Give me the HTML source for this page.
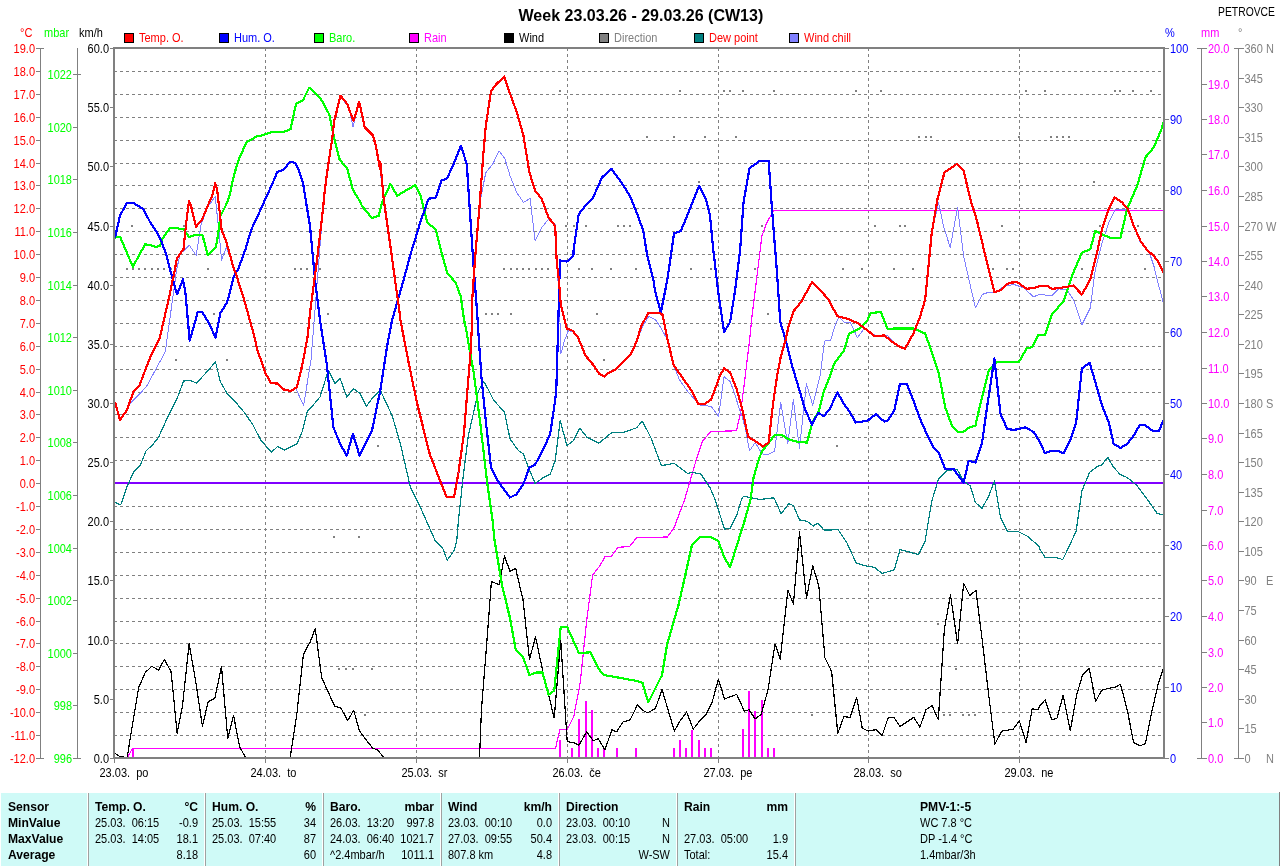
<!DOCTYPE html><html><head><meta charset="utf-8"><style>html,body{margin:0;padding:0;background:#fff;width:1280px;height:866px;overflow:hidden}svg{display:block;will-change:transform}text{font-family:"Liberation Sans",sans-serif}</style></head><body>
<svg width="1280" height="866" viewBox="0 0 1280 866">
<text transform="translate(518.5 21) scale(0.944 1)" fill="#000" text-anchor="start" font-size="17" font-weight="bold" >Week 23.03.26 - 29.03.26 (CW13)</text>
<text transform="translate(1218 16) scale(0.83 1)" fill="#000" text-anchor="start" font-size="12.5" >PETROVCE</text>
<text transform="translate(20 37) scale(0.88 1)" fill="#f00" text-anchor="start" font-size="12.5" >°C</text>
<text transform="translate(44 37) scale(0.88 1)" fill="#0f0" text-anchor="start" font-size="12.5" >mbar</text>
<text transform="translate(79 37) scale(0.88 1)" fill="#000" text-anchor="start" font-size="12.5" >km/h</text>
<text transform="translate(1165 37) scale(0.88 1)" fill="#00f" text-anchor="start" font-size="12.5" >%</text>
<text transform="translate(1201 37) scale(0.88 1)" fill="#f0f" text-anchor="start" font-size="12.5" >mm</text>
<text transform="translate(1238 37) scale(0.88 1)" fill="#808080" text-anchor="start" font-size="12.5" >°</text>
<rect x="124.5" y="33.5" width="9" height="9" fill="#f00" stroke="#000" stroke-width="1"/>
<text transform="translate(139 42) scale(0.88 1)" fill="#f00" text-anchor="start" font-size="12.5" >Temp. O.</text>
<rect x="219.5" y="33.5" width="9" height="9" fill="#00f" stroke="#000" stroke-width="1"/>
<text transform="translate(234 42) scale(0.88 1)" fill="#00f" text-anchor="start" font-size="12.5" >Hum. O.</text>
<rect x="314.5" y="33.5" width="9" height="9" fill="#0f0" stroke="#000" stroke-width="1"/>
<text transform="translate(329 42) scale(0.88 1)" fill="#0f0" text-anchor="start" font-size="12.5" >Baro.</text>
<rect x="409.5" y="33.5" width="9" height="9" fill="#f0f" stroke="#000" stroke-width="1"/>
<text transform="translate(424 42) scale(0.88 1)" fill="#f0f" text-anchor="start" font-size="12.5" >Rain</text>
<rect x="504.5" y="33.5" width="9" height="9" fill="#000" stroke="#000" stroke-width="1"/>
<text transform="translate(519 42) scale(0.88 1)" fill="#000" text-anchor="start" font-size="12.5" >Wind</text>
<rect x="599.5" y="33.5" width="9" height="9" fill="#808080" stroke="#000" stroke-width="1"/>
<text transform="translate(614 42) scale(0.88 1)" fill="#808080" text-anchor="start" font-size="12.5" >Direction</text>
<rect x="694.5" y="33.5" width="9" height="9" fill="#008080" stroke="#000" stroke-width="1"/>
<text transform="translate(709 42) scale(0.88 1)" fill="#f00" text-anchor="start" font-size="12.5" >Dew point</text>
<rect x="789.5" y="33.5" width="9" height="9" fill="#8080ff" stroke="#000" stroke-width="1"/>
<text transform="translate(804 42) scale(0.88 1)" fill="#f00" text-anchor="start" font-size="12.5" >Wind chill</text>
<path d="M114 71.5H1163 M114 94.5H1163 M114 117.5H1163 M114 140.5H1163 M114 163.5H1163 M114 185.5H1163 M114 208.5H1163 M114 231.5H1163 M114 254.5H1163 M114 277.5H1163 M114 300.5H1163 M114 323.5H1163 M114 346.5H1163 M114 369.5H1163 M114 392.5H1163 M114 414.5H1163 M114 437.5H1163 M114 460.5H1163 M114 483.5H1163 M114 506.5H1163 M114 529.5H1163 M114 552.5H1163 M114 575.5H1163 M114 598.5H1163 M114 621.5H1163 M114 643.5H1163 M114 666.5H1163 M114 689.5H1163 M114 712.5H1163 M114 735.5H1163 M265.5 48V757 M416.5 48V757 M567.5 48V757 M718.5 48V757 M868.5 48V757 M1019.5 48V757" stroke="#808080" stroke-width="1" stroke-dasharray="3 3" fill="none" shape-rendering="crispEdges"/>
<path d="M40.5 48V759 M36 48.5H44 M36 71.5H41 M36 94.5H41 M36 117.5H41 M36 140.5H41 M36 163.5H41 M36 185.5H41 M36 208.5H41 M36 231.5H41 M36 254.5H41 M36 277.5H41 M36 300.5H41 M36 323.5H41 M36 346.5H41 M36 369.5H41 M36 392.5H41 M36 414.5H41 M36 437.5H41 M36 460.5H41 M36 483.5H41 M36 506.5H41 M36 529.5H41 M36 552.5H41 M36 575.5H41 M36 598.5H41 M36 621.5H41 M36 643.5H41 M36 666.5H41 M36 689.5H41 M36 712.5H41 M36 735.5H41 M36 758.5H44 M77.5 48V759 M73 758.5H81 M73 705.5H78 M73 653.5H78 M73 600.5H78 M73 548.5H78 M73 495.5H78 M73 442.5H78 M73 390.5H78 M73 337.5H78 M73 285.5H78 M73 232.5H78 M73 179.5H78 M73 127.5H78 M73 74.5H81 M110 758.5H114 M110 699.5H114 M110 640.5H114 M110 580.5H114 M110 521.5H114 M110 462.5H114 M110 403.5H114 M110 344.5H114 M110 285.5H114 M110 226.5H114 M110 166.5H114 M110 107.5H114 M110 48.5H114 M114.5 758V763 M265.5 758V763 M416.5 758V763 M567.5 758V763 M718.5 758V763 M868.5 758V763 M1019.5 758V763 M1164 758.5H1169 M1164 687.5H1169 M1164 616.5H1169 M1164 545.5H1169 M1164 474.5H1169 M1164 403.5H1169 M1164 332.5H1169 M1164 261.5H1169 M1164 190.5H1169 M1164 119.5H1169 M1164 48.5H1169 M1201.5 48V759 M1197 758.5H1207 M1201 722.5H1207 M1201 687.5H1207 M1201 652.5H1207 M1201 616.5H1207 M1201 580.5H1207 M1201 545.5H1207 M1201 510.5H1207 M1201 474.5H1207 M1201 438.5H1207 M1201 403.5H1207 M1201 368.5H1207 M1201 332.5H1207 M1201 296.5H1207 M1201 261.5H1207 M1201 226.5H1207 M1201 190.5H1207 M1201 154.5H1207 M1201 119.5H1207 M1201 84.5H1207 M1197 48.5H1207 M1238.5 48V759 M1234 758.5H1244 M1238 728.5H1244 M1238 699.5H1244 M1238 669.5H1244 M1238 640.5H1244 M1238 610.5H1244 M1238 580.5H1244 M1238 551.5H1244 M1238 521.5H1244 M1238 492.5H1244 M1238 462.5H1244 M1238 433.5H1244 M1238 403.5H1244 M1238 373.5H1244 M1238 344.5H1244 M1238 314.5H1244 M1238 285.5H1244 M1238 255.5H1244 M1238 226.5H1244 M1238 196.5H1244 M1238 166.5H1244 M1238 137.5H1244 M1238 107.5H1244 M1238 78.5H1244 M1234 48.5H1244" stroke="#808080" stroke-width="1" fill="none" shape-rendering="crispEdges"/>
<text transform="translate(35 53) scale(0.88 1)" fill="#f00" text-anchor="end" font-size="12.5" >19.0</text>
<text transform="translate(35 76) scale(0.88 1)" fill="#f00" text-anchor="end" font-size="12.5" >18.0</text>
<text transform="translate(35 99) scale(0.88 1)" fill="#f00" text-anchor="end" font-size="12.5" >17.0</text>
<text transform="translate(35 122) scale(0.88 1)" fill="#f00" text-anchor="end" font-size="12.5" >16.0</text>
<text transform="translate(35 145) scale(0.88 1)" fill="#f00" text-anchor="end" font-size="12.5" >15.0</text>
<text transform="translate(35 168) scale(0.88 1)" fill="#f00" text-anchor="end" font-size="12.5" >14.0</text>
<text transform="translate(35 190) scale(0.88 1)" fill="#f00" text-anchor="end" font-size="12.5" >13.0</text>
<text transform="translate(35 213) scale(0.88 1)" fill="#f00" text-anchor="end" font-size="12.5" >12.0</text>
<text transform="translate(35 236) scale(0.88 1)" fill="#f00" text-anchor="end" font-size="12.5" >11.0</text>
<text transform="translate(35 259) scale(0.88 1)" fill="#f00" text-anchor="end" font-size="12.5" >10.0</text>
<text transform="translate(35 282) scale(0.88 1)" fill="#f00" text-anchor="end" font-size="12.5" >9.0</text>
<text transform="translate(35 305) scale(0.88 1)" fill="#f00" text-anchor="end" font-size="12.5" >8.0</text>
<text transform="translate(35 328) scale(0.88 1)" fill="#f00" text-anchor="end" font-size="12.5" >7.0</text>
<text transform="translate(35 351) scale(0.88 1)" fill="#f00" text-anchor="end" font-size="12.5" >6.0</text>
<text transform="translate(35 374) scale(0.88 1)" fill="#f00" text-anchor="end" font-size="12.5" >5.0</text>
<text transform="translate(35 397) scale(0.88 1)" fill="#f00" text-anchor="end" font-size="12.5" >4.0</text>
<text transform="translate(35 419) scale(0.88 1)" fill="#f00" text-anchor="end" font-size="12.5" >3.0</text>
<text transform="translate(35 442) scale(0.88 1)" fill="#f00" text-anchor="end" font-size="12.5" >2.0</text>
<text transform="translate(35 465) scale(0.88 1)" fill="#f00" text-anchor="end" font-size="12.5" >1.0</text>
<text transform="translate(35 488) scale(0.88 1)" fill="#f00" text-anchor="end" font-size="12.5" >0.0</text>
<text transform="translate(35 511) scale(0.88 1)" fill="#f00" text-anchor="end" font-size="12.5" >-1.0</text>
<text transform="translate(35 534) scale(0.88 1)" fill="#f00" text-anchor="end" font-size="12.5" >-2.0</text>
<text transform="translate(35 557) scale(0.88 1)" fill="#f00" text-anchor="end" font-size="12.5" >-3.0</text>
<text transform="translate(35 580) scale(0.88 1)" fill="#f00" text-anchor="end" font-size="12.5" >-4.0</text>
<text transform="translate(35 603) scale(0.88 1)" fill="#f00" text-anchor="end" font-size="12.5" >-5.0</text>
<text transform="translate(35 626) scale(0.88 1)" fill="#f00" text-anchor="end" font-size="12.5" >-6.0</text>
<text transform="translate(35 648) scale(0.88 1)" fill="#f00" text-anchor="end" font-size="12.5" >-7.0</text>
<text transform="translate(35 671) scale(0.88 1)" fill="#f00" text-anchor="end" font-size="12.5" >-8.0</text>
<text transform="translate(35 694) scale(0.88 1)" fill="#f00" text-anchor="end" font-size="12.5" >-9.0</text>
<text transform="translate(35 717) scale(0.88 1)" fill="#f00" text-anchor="end" font-size="12.5" >-10.0</text>
<text transform="translate(35 740) scale(0.88 1)" fill="#f00" text-anchor="end" font-size="12.5" >-11.0</text>
<text transform="translate(35 763) scale(0.88 1)" fill="#f00" text-anchor="end" font-size="12.5" >-12.0</text>
<text transform="translate(72 763) scale(0.88 1)" fill="#0f0" text-anchor="end" font-size="12.5" >996</text>
<text transform="translate(72 710) scale(0.88 1)" fill="#0f0" text-anchor="end" font-size="12.5" >998</text>
<text transform="translate(72 658) scale(0.88 1)" fill="#0f0" text-anchor="end" font-size="12.5" >1000</text>
<text transform="translate(72 605) scale(0.88 1)" fill="#0f0" text-anchor="end" font-size="12.5" >1002</text>
<text transform="translate(72 553) scale(0.88 1)" fill="#0f0" text-anchor="end" font-size="12.5" >1004</text>
<text transform="translate(72 500) scale(0.88 1)" fill="#0f0" text-anchor="end" font-size="12.5" >1006</text>
<text transform="translate(72 447) scale(0.88 1)" fill="#0f0" text-anchor="end" font-size="12.5" >1008</text>
<text transform="translate(72 395) scale(0.88 1)" fill="#0f0" text-anchor="end" font-size="12.5" >1010</text>
<text transform="translate(72 342) scale(0.88 1)" fill="#0f0" text-anchor="end" font-size="12.5" >1012</text>
<text transform="translate(72 290) scale(0.88 1)" fill="#0f0" text-anchor="end" font-size="12.5" >1014</text>
<text transform="translate(72 237) scale(0.88 1)" fill="#0f0" text-anchor="end" font-size="12.5" >1016</text>
<text transform="translate(72 184) scale(0.88 1)" fill="#0f0" text-anchor="end" font-size="12.5" >1018</text>
<text transform="translate(72 132) scale(0.88 1)" fill="#0f0" text-anchor="end" font-size="12.5" >1020</text>
<text transform="translate(72 79) scale(0.88 1)" fill="#0f0" text-anchor="end" font-size="12.5" >1022</text>
<text transform="translate(109 763) scale(0.88 1)" fill="#000" text-anchor="end" font-size="12.5" >0.0</text>
<text transform="translate(109 704) scale(0.88 1)" fill="#000" text-anchor="end" font-size="12.5" >5.0</text>
<text transform="translate(109 645) scale(0.88 1)" fill="#000" text-anchor="end" font-size="12.5" >10.0</text>
<text transform="translate(109 585) scale(0.88 1)" fill="#000" text-anchor="end" font-size="12.5" >15.0</text>
<text transform="translate(109 526) scale(0.88 1)" fill="#000" text-anchor="end" font-size="12.5" >20.0</text>
<text transform="translate(109 467) scale(0.88 1)" fill="#000" text-anchor="end" font-size="12.5" >25.0</text>
<text transform="translate(109 408) scale(0.88 1)" fill="#000" text-anchor="end" font-size="12.5" >30.0</text>
<text transform="translate(109 349) scale(0.88 1)" fill="#000" text-anchor="end" font-size="12.5" >35.0</text>
<text transform="translate(109 290) scale(0.88 1)" fill="#000" text-anchor="end" font-size="12.5" >40.0</text>
<text transform="translate(109 231) scale(0.88 1)" fill="#000" text-anchor="end" font-size="12.5" >45.0</text>
<text transform="translate(109 171) scale(0.88 1)" fill="#000" text-anchor="end" font-size="12.5" >50.0</text>
<text transform="translate(109 112) scale(0.88 1)" fill="#000" text-anchor="end" font-size="12.5" >55.0</text>
<text transform="translate(109 53) scale(0.88 1)" fill="#000" text-anchor="end" font-size="12.5" >60.0</text>
<text transform="translate(1170 763) scale(0.88 1)" fill="#00f" text-anchor="start" font-size="12.5" >0</text>
<text transform="translate(1170 692) scale(0.88 1)" fill="#00f" text-anchor="start" font-size="12.5" >10</text>
<text transform="translate(1170 621) scale(0.88 1)" fill="#00f" text-anchor="start" font-size="12.5" >20</text>
<text transform="translate(1170 550) scale(0.88 1)" fill="#00f" text-anchor="start" font-size="12.5" >30</text>
<text transform="translate(1170 479) scale(0.88 1)" fill="#00f" text-anchor="start" font-size="12.5" >40</text>
<text transform="translate(1170 408) scale(0.88 1)" fill="#00f" text-anchor="start" font-size="12.5" >50</text>
<text transform="translate(1170 337) scale(0.88 1)" fill="#00f" text-anchor="start" font-size="12.5" >60</text>
<text transform="translate(1170 266) scale(0.88 1)" fill="#00f" text-anchor="start" font-size="12.5" >70</text>
<text transform="translate(1170 195) scale(0.88 1)" fill="#00f" text-anchor="start" font-size="12.5" >80</text>
<text transform="translate(1170 124) scale(0.88 1)" fill="#00f" text-anchor="start" font-size="12.5" >90</text>
<text transform="translate(1170 53) scale(0.88 1)" fill="#00f" text-anchor="start" font-size="12.5" >100</text>
<text transform="translate(1208 763) scale(0.88 1)" fill="#f0f" text-anchor="start" font-size="12.5" >0.0</text>
<text transform="translate(1208 727) scale(0.88 1)" fill="#f0f" text-anchor="start" font-size="12.5" >1.0</text>
<text transform="translate(1208 692) scale(0.88 1)" fill="#f0f" text-anchor="start" font-size="12.5" >2.0</text>
<text transform="translate(1208 657) scale(0.88 1)" fill="#f0f" text-anchor="start" font-size="12.5" >3.0</text>
<text transform="translate(1208 621) scale(0.88 1)" fill="#f0f" text-anchor="start" font-size="12.5" >4.0</text>
<text transform="translate(1208 585) scale(0.88 1)" fill="#f0f" text-anchor="start" font-size="12.5" >5.0</text>
<text transform="translate(1208 550) scale(0.88 1)" fill="#f0f" text-anchor="start" font-size="12.5" >6.0</text>
<text transform="translate(1208 515) scale(0.88 1)" fill="#f0f" text-anchor="start" font-size="12.5" >7.0</text>
<text transform="translate(1208 479) scale(0.88 1)" fill="#f0f" text-anchor="start" font-size="12.5" >8.0</text>
<text transform="translate(1208 443) scale(0.88 1)" fill="#f0f" text-anchor="start" font-size="12.5" >9.0</text>
<text transform="translate(1208 408) scale(0.88 1)" fill="#f0f" text-anchor="start" font-size="12.5" >10.0</text>
<text transform="translate(1208 373) scale(0.88 1)" fill="#f0f" text-anchor="start" font-size="12.5" >11.0</text>
<text transform="translate(1208 337) scale(0.88 1)" fill="#f0f" text-anchor="start" font-size="12.5" >12.0</text>
<text transform="translate(1208 301) scale(0.88 1)" fill="#f0f" text-anchor="start" font-size="12.5" >13.0</text>
<text transform="translate(1208 266) scale(0.88 1)" fill="#f0f" text-anchor="start" font-size="12.5" >14.0</text>
<text transform="translate(1208 231) scale(0.88 1)" fill="#f0f" text-anchor="start" font-size="12.5" >15.0</text>
<text transform="translate(1208 195) scale(0.88 1)" fill="#f0f" text-anchor="start" font-size="12.5" >16.0</text>
<text transform="translate(1208 159) scale(0.88 1)" fill="#f0f" text-anchor="start" font-size="12.5" >17.0</text>
<text transform="translate(1208 124) scale(0.88 1)" fill="#f0f" text-anchor="start" font-size="12.5" >18.0</text>
<text transform="translate(1208 89) scale(0.88 1)" fill="#f0f" text-anchor="start" font-size="12.5" >19.0</text>
<text transform="translate(1208 53) scale(0.88 1)" fill="#f0f" text-anchor="start" font-size="12.5" >20.0</text>
<text transform="translate(1244.5 763) scale(0.88 1)" fill="#808080" text-anchor="start" font-size="12.5" >0</text>
<text transform="translate(1266 763) scale(0.88 1)" fill="#808080" text-anchor="start" font-size="12.5" >N</text>
<text transform="translate(1244.5 733) scale(0.88 1)" fill="#808080" text-anchor="start" font-size="12.5" >15</text>
<text transform="translate(1244.5 704) scale(0.88 1)" fill="#808080" text-anchor="start" font-size="12.5" >30</text>
<text transform="translate(1244.5 674) scale(0.88 1)" fill="#808080" text-anchor="start" font-size="12.5" >45</text>
<text transform="translate(1244.5 645) scale(0.88 1)" fill="#808080" text-anchor="start" font-size="12.5" >60</text>
<text transform="translate(1244.5 615) scale(0.88 1)" fill="#808080" text-anchor="start" font-size="12.5" >75</text>
<text transform="translate(1244.5 585) scale(0.88 1)" fill="#808080" text-anchor="start" font-size="12.5" >90</text>
<text transform="translate(1266 585) scale(0.88 1)" fill="#808080" text-anchor="start" font-size="12.5" >E</text>
<text transform="translate(1244.5 556) scale(0.88 1)" fill="#808080" text-anchor="start" font-size="12.5" >105</text>
<text transform="translate(1244.5 526) scale(0.88 1)" fill="#808080" text-anchor="start" font-size="12.5" >120</text>
<text transform="translate(1244.5 497) scale(0.88 1)" fill="#808080" text-anchor="start" font-size="12.5" >135</text>
<text transform="translate(1244.5 467) scale(0.88 1)" fill="#808080" text-anchor="start" font-size="12.5" >150</text>
<text transform="translate(1244.5 438) scale(0.88 1)" fill="#808080" text-anchor="start" font-size="12.5" >165</text>
<text transform="translate(1244.5 408) scale(0.88 1)" fill="#808080" text-anchor="start" font-size="12.5" >180</text>
<text transform="translate(1266 408) scale(0.88 1)" fill="#808080" text-anchor="start" font-size="12.5" >S</text>
<text transform="translate(1244.5 378) scale(0.88 1)" fill="#808080" text-anchor="start" font-size="12.5" >195</text>
<text transform="translate(1244.5 349) scale(0.88 1)" fill="#808080" text-anchor="start" font-size="12.5" >210</text>
<text transform="translate(1244.5 319) scale(0.88 1)" fill="#808080" text-anchor="start" font-size="12.5" >225</text>
<text transform="translate(1244.5 290) scale(0.88 1)" fill="#808080" text-anchor="start" font-size="12.5" >240</text>
<text transform="translate(1244.5 260) scale(0.88 1)" fill="#808080" text-anchor="start" font-size="12.5" >255</text>
<text transform="translate(1244.5 231) scale(0.88 1)" fill="#808080" text-anchor="start" font-size="12.5" >270</text>
<text transform="translate(1266 231) scale(0.88 1)" fill="#808080" text-anchor="start" font-size="12.5" >W</text>
<text transform="translate(1244.5 201) scale(0.88 1)" fill="#808080" text-anchor="start" font-size="12.5" >285</text>
<text transform="translate(1244.5 171) scale(0.88 1)" fill="#808080" text-anchor="start" font-size="12.5" >300</text>
<text transform="translate(1244.5 142) scale(0.88 1)" fill="#808080" text-anchor="start" font-size="12.5" >315</text>
<text transform="translate(1244.5 112) scale(0.88 1)" fill="#808080" text-anchor="start" font-size="12.5" >330</text>
<text transform="translate(1244.5 83) scale(0.88 1)" fill="#808080" text-anchor="start" font-size="12.5" >345</text>
<text transform="translate(1244.5 53) scale(0.88 1)" fill="#808080" text-anchor="start" font-size="12.5" >360</text>
<text transform="translate(1266 53) scale(0.88 1)" fill="#808080" text-anchor="start" font-size="12.5" >N</text>
<text transform="translate(99.5 777) scale(0.88 1)" fill="#000" text-anchor="start" font-size="12.5" >23.03.&#160;&#160;po</text>
<text transform="translate(250.5 777) scale(0.88 1)" fill="#000" text-anchor="start" font-size="12.5" >24.03.&#160;&#160;to</text>
<text transform="translate(401.5 777) scale(0.88 1)" fill="#000" text-anchor="start" font-size="12.5" >25.03.&#160;&#160;sr</text>
<text transform="translate(552.5 777) scale(0.88 1)" fill="#000" text-anchor="start" font-size="12.5" >26.03.&#160;&#160;če</text>
<text transform="translate(703.5 777) scale(0.88 1)" fill="#000" text-anchor="start" font-size="12.5" >27.03.&#160;&#160;pe</text>
<text transform="translate(853.5 777) scale(0.88 1)" fill="#000" text-anchor="start" font-size="12.5" >28.03.&#160;&#160;so</text>
<text transform="translate(1004.5 777) scale(0.88 1)" fill="#000" text-anchor="start" font-size="12.5" >29.03.&#160;&#160;ne</text>
<svg x="0" y="0" width="1280" height="866"><defs><clipPath id="pc"><rect x="115" y="49" width="1048" height="708"/></clipPath></defs><g clip-path="url(#pc)">
<path d="M115 483H1163" stroke="#8000ff" stroke-width="2"/>
<path d="M559 90h2v2h-2z M679 90h2v2h-2z M723 90h2v2h-2z M729 90h2v2h-2z M742 90h2v2h-2z M773 90h2v2h-2z M855 90h2v2h-2z M880 90h2v2h-2z M1025 90h2v2h-2z M1044 90h2v2h-2z M1114 90h2v2h-2z M1119 90h2v2h-2z M1132 90h2v2h-2z M1150 90h2v2h-2z M646 136h2v2h-2z M673 136h2v2h-2z M704 136h2v2h-2z M735 136h2v2h-2z M918 136h2v2h-2z M925 136h2v2h-2z M930 136h2v2h-2z M1018 136h2v2h-2z M1050 136h2v2h-2z M1056 136h2v2h-2z M1062 136h2v2h-2z M1068 136h2v2h-2z M698 181h2v2h-2z M1093 181h2v2h-2z M131 225h2v2h-2z M183 225h2v2h-2z M565 225h2v2h-2z M573 225h2v2h-2z M585 225h2v2h-2z M617 225h2v2h-2z M623 225h2v2h-2z M629 225h2v2h-2z M761 225h2v2h-2z M874 225h2v2h-2z M899 225h2v2h-2z M904 225h2v2h-2z M1001 225h2v2h-2z M1099 225h2v2h-2z M1137 225h2v2h-2z M126 268h2v2h-2z M132 268h2v2h-2z M138 268h2v2h-2z M144 268h2v2h-2z M151 268h2v2h-2z M157 268h2v2h-2z M163 268h2v2h-2z M170 268h2v2h-2z M207 268h2v2h-2z M294 268h2v2h-2z M300 268h2v2h-2z M306 268h2v2h-2z M319 268h2v2h-2z M503 268h2v2h-2z M510 268h2v2h-2z M516 268h2v2h-2z M522 268h2v2h-2z M528 268h2v2h-2z M535 268h2v2h-2z M541 268h2v2h-2z M547 268h2v2h-2z M578 268h2v2h-2z M591 268h2v2h-2z M610 268h2v2h-2z M635 268h2v2h-2z M690 268h2v2h-2z M754 268h2v2h-2z M710 268h2v2h-2z M842 268h2v2h-2z M861 268h2v2h-2z M893 268h2v2h-2z M912 268h2v2h-2z M992 268h2v2h-2z M1006 268h2v2h-2z M1012 268h2v2h-2z M1081 268h2v2h-2z M1144 268h2v2h-2z M213 313h2v2h-2z M327 313h2v2h-2z M485 313h2v2h-2z M491 313h2v2h-2z M497 313h2v2h-2z M510 313h2v2h-2z M596 313h2v2h-2z M767 313h2v2h-2z M175 359h2v2h-2z M226 359h2v2h-2z M603 359h2v2h-2z M377 445h2v2h-2z M836 445h2v2h-2z M333 536h2v2h-2z M358 536h2v2h-2z M937 623h2v2h-2z M338 668h2v2h-2z M345 668h2v2h-2z M352 668h2v2h-2z M371 668h2v2h-2z M955 668h2v2h-2z M364 714h2v2h-2z M811 714h2v2h-2z M943 714h2v2h-2z M949 714h2v2h-2z M962 714h2v2h-2z M968 714h2v2h-2z M974 714h2v2h-2z" fill="#808080"/>
<rect x="132" y="749" width="2" height="9" fill="#ff00ff"/>
<rect x="559" y="740" width="2" height="18" fill="#ff00ff"/>
<rect x="571" y="748" width="2" height="10" fill="#ff00ff"/>
<rect x="578" y="719" width="2" height="39" fill="#ff00ff"/>
<rect x="585" y="701" width="2" height="57" fill="#ff00ff"/>
<rect x="591" y="710" width="2" height="48" fill="#ff00ff"/>
<rect x="597" y="748" width="2" height="10" fill="#ff00ff"/>
<rect x="603" y="748" width="2" height="10" fill="#ff00ff"/>
<rect x="616" y="748" width="2" height="10" fill="#ff00ff"/>
<rect x="635" y="748" width="2" height="10" fill="#ff00ff"/>
<rect x="673" y="748" width="2" height="10" fill="#ff00ff"/>
<rect x="679" y="740" width="2" height="18" fill="#ff00ff"/>
<rect x="685" y="748" width="2" height="10" fill="#ff00ff"/>
<rect x="691" y="730" width="2" height="28" fill="#ff00ff"/>
<rect x="698" y="740" width="2" height="18" fill="#ff00ff"/>
<rect x="704" y="748" width="2" height="10" fill="#ff00ff"/>
<rect x="710" y="748" width="2" height="10" fill="#ff00ff"/>
<rect x="742" y="729" width="2" height="29" fill="#ff00ff"/>
<rect x="748" y="691" width="2" height="67" fill="#ff00ff"/>
<rect x="754" y="711" width="2" height="47" fill="#ff00ff"/>
<rect x="761" y="700" width="2" height="58" fill="#ff00ff"/>
<rect x="767" y="748" width="2" height="10" fill="#ff00ff"/>
<rect x="773" y="748" width="2" height="10" fill="#ff00ff"/>
<polyline points="113.8,757.8 127.2,757.8 132.5,748.5 133.8,748.5 510.0,748.5 555.5,748.5 559.9,729.7 567.2,729.7 573.7,716.7 580.2,682.9 586.7,620.6 592.6,575.1 599.7,566.0 604.9,556.9 611.4,556.1 617.9,547.3 629.6,546.5 634.8,540.0 636.6,537.7 667.4,537.0 674.1,527.7 679.1,514.3 684.2,500.9 689.2,484.1 696.2,460.0 702.5,441.2 710.8,431.5 736.4,430.8 740.6,412.8 745.4,374.7 749.6,340.0 751.9,317.0 760.2,250.0 761.9,235.9 766.9,222.5 773.6,210.5 920.0,210.5 1163,210.5" fill="none" stroke="#ff00ff" stroke-width="1.2" stroke-linejoin="round" shape-rendering="crispEdges" />
<polyline points="113.8,752.5 119.5,756.3 127.2,757.8 131.0,733.4 134.8,710.5 138.6,687.7 145.3,672.4 151.9,666.3 158.6,670.1 164.3,659.5 171.0,671.5 172.9,689.6 177.1,733.4 182.4,706.7 189.1,643.8 195.8,681.9 202.4,726.2 208.1,702.0 214.8,698.1 221.5,666.7 227.8,738.7 233.5,715.3 239.6,746.7 245.7,757.8 290.1,757.8 296.8,714.3 303.4,654.3 309.1,643.8 310.0,642.7 315.2,628.4 321.7,677.7 334.7,706.3 340.7,707.6 347.7,720.6 353.7,710.2 359.4,731.0 372.4,747.9 377.6,750.0 384.1,757.8 479.5,757.8 481.5,708.9 486.7,644.0 491.4,581.6 499.2,584.7 504.4,556.1 510.0,571.2 515.7,568.6 523.0,599.8 529.5,659.6 535.5,636.7 542.5,670.0 554.2,718.0 560.7,640.1 567.2,741.7 573.7,742.7 578.9,745.3 586.7,731.8 593.2,740.6 598.4,738.8 604.9,750.0 611.9,729.7 616.6,731.8 623.1,721.9 630.1,719.9 637.4,705.0 642.5,710.2 647.7,712.8 655.5,708.4 662.0,689.4 674.3,731.0 680.2,720.6 686.7,712.1 693.2,729.2 700.0,720.4 706.1,714.3 712.2,702.0 718.4,679.1 724.5,699.0 736.7,694.4 744.4,711.2 749.0,709.7 755.1,718.9 761.2,714.3 768.0,689.8 775.0,643.9 780.2,659.2 787.9,590.3 793.4,604.1 799.5,532.1 806.5,598.0 812.7,565.8 818.8,585.7 824.9,657.7 831.6,671.4 837.8,733.3 843.9,716.7 850.0,717.3 856.7,697.4 862.2,728.1 868.4,731.1 876.0,729.6 882.1,735.7 888.3,717.3 894.4,718.0 900.0,726.5 913.8,717.3 919.9,727.1 926.0,709.7 932.1,705.7 938.3,719.8 944.4,628.6 950.5,594.9 957.6,643.9 963.7,583.3 969.8,595.5 975.9,590.3 982.7,643.9 988.8,695.9 994.9,744.3 1001.6,731.1 1007.1,730.2 1013.3,729.0 1019.4,721.0 1026.1,742.4 1032.2,708.8 1037.8,709.7 1040.0,705.6 1045.2,699.7 1051.8,719.8 1057.0,718.2 1063.2,695.0 1070.3,730.5 1076.7,695.0 1082.6,674.8 1089.3,668.5 1095.6,701.6 1101.6,690.2 1108.7,688.3 1114.6,687.4 1120.5,684.3 1127.6,711.5 1133.5,742.3 1139.9,745.9 1145.4,743.5 1151.3,713.9 1158.4,683.1 1163.6,667.7" fill="none" stroke="#000" stroke-width="1.2" stroke-linejoin="round" shape-rendering="crispEdges" />
<polyline points="115.0,502.5 120.7,504.9 126.7,487.5 133.4,472.4 140.1,465.7 146.2,450.6 151.9,445.6 158.6,437.2 166.9,418.8 177.0,398.7 183.7,381.0 189.7,380.3 196.4,383.0 203.8,375.3 215.5,361.9 220.5,382.0 227.2,393.7 235.6,402.1 244.0,412.1 252.3,423.8 260.7,439.9 271.4,452.3 277.5,446.6 284.2,450.0 296.9,443.9 302.6,430.5 307.6,410.4 310.0,408.8 320.0,397.0 328.4,370.2 335.1,383.6 340.1,378.6 346.8,397.0 353.5,388.7 360.2,393.7 366.3,406.4 372.0,398.7 380.3,390.3 392.1,415.5 400.4,443.9 410.5,487.5 420.5,507.6 433.9,537.7 434.8,540.0 442.5,547.8 447.2,560.3 454.2,550.4 456.8,540.0 458.5,519.9 462.9,479.1 468.4,435.3 473.9,411.1 478.2,391.4 483.7,381.5 488.1,389.2 493.6,400.2 504.6,412.2 510.0,438.9 518.4,450.6 523.4,454.0 528.4,467.4 535.1,483.4 543.5,477.4 550.2,474.1 555.2,460.7 560.2,420.5 566.9,445.6 573.6,440.6 579.7,428.2 587.0,437.2 598.8,443.3 612.2,432.2 623.9,432.2 636.6,427.8 642.3,421.1 650.7,437.2 661.4,465.7 674.1,463.3 687.5,473.4 692.5,472.4 700.9,474.1 710.0,487.8 715.3,500.0 724.5,529.1 730.0,528.2 736.7,515.3 741.3,500.0 743.5,496.2 751.9,497.8 760.2,499.5 773.6,497.8 775.0,500.0 781.1,513.8 788.8,503.7 793.4,505.5 799.5,519.9 807.1,521.4 813.3,526.0 817.9,523.0 824.0,530.0 831.6,530.0 837.8,529.1 846.9,542.9 856.1,562.8 865.3,565.8 874.5,567.3 882.1,573.5 894.4,569.8 900.0,549.5 918.4,554.5 925.1,541.1 931.8,501.0 938.5,479.2 946.9,470.8 956.9,469.1 963.6,480.9 970.3,485.9 975.4,502.6 982.1,508.3 988.8,495.9 994.4,480.9 1000.5,517.7 1007.2,531.1 1017.2,531.1 1027.3,536.1 1039.0,546.2 1040.0,549.5 1045.0,557.2 1056.8,557.8 1062.8,559.5 1068.5,547.8 1076.2,531.0 1081.9,490.8 1089.6,472.4 1097.0,466.7 1102.0,464.7 1107.7,457.3 1113.7,467.4 1120.4,474.7 1127.1,477.4 1137.2,485.8 1147.2,499.2 1157.3,513.6 1163.3,514.9" fill="none" stroke="#008080" stroke-width="1.2" stroke-linejoin="round" shape-rendering="crispEdges" />
<polyline points="126.7,407.1 146.2,387.0 165.3,351.8 176.6,270.0 180.0,254.3 189.3,245.1 196.2,255.5 200.8,225.4 203.1,219.7 207.7,207.0 215.2,196.6 219.3,234.7 221.6,260.1 226.2,247.4 230.8,257.8 234.1,270.0 235.6,272.8 244.0,299.5 254.0,335.0 257.4,350.1 265.7,373.6 270.8,383.0 277.5,383.6 284.2,389.7 290.9,391.0 295.9,388.7 303.6,405.4 311.0,360.2 323.7,200.0 326.5,177.0 329.3,157.6 332.1,139.6 334.1,121.6 336.9,110.5 340.4,97.3 343.1,100.1 347.3,105.6 350.1,113.3 353.1,127.1 356.3,113.3 359.1,102.9 361.8,114.6 364.6,128.5 372.9,136.8 375.7,146.5 380.0,170.1 383.7,199.1 390.4,246.0 395.4,282.8 398.8,306.2 400.4,320.0 408.8,363.5 417.2,403.7 427.2,443.9 430.0,455.0 446.4,496.7 454.1,496.7 458.5,472.5 464.0,433.1 467.3,391.4 470.6,351.9 471.7,330.0 472.0,302.6 475.4,254.1 479.6,205.5 480.6,198.6 485.8,172.6 492.8,164.0 499.0,150.8 504.9,158.8 510.0,175.6 516.7,192.4 523.4,202.4 530.1,198.4 535.1,240.9 541.8,227.5 548.5,219.2 555.2,224.2 557.8,277.5 559.3,300.0 560.0,322.5 560.8,354.1 564.5,340.5 568.3,330.8 572.8,331.5 578.0,338.3 585.5,356.3 593.0,365.3 599.0,374.3 600.0,374.9 604.5,377.1 609.0,373.4 616.5,369.6 624.0,361.3 630.8,354.9 636.8,341.8 642.1,327.5 648.8,316.3 655.6,320.0 661.6,329.0 667.6,340.3 673.6,365.1 679.6,380.1 687.1,390.6 699.1,404.9 711.1,406.4 718.6,416.2 724.0,376.7 730.2,381.6 734.4,392.7 738.5,406.5 742.0,416.2 745.4,428.7 749.6,450.9 755.1,442.6 762.1,453.7 767.6,455.0 774.6,450.9 780.8,402.4 787.7,444.0 793.3,399.6 799.5,448.1 806.4,383.7 812.7,405.1 820.3,374.7 824.5,341.4 825.6,340.4 830.6,340.4 835.6,323.7 838.9,317.0 844.0,322.0 850.7,323.0 857.4,337.8 864.1,328.7 870.8,333.1 877.5,336.4 887.5,335.4 897.6,345.5 904.3,348.8 905.0,348.6 913.4,333.5 920.1,316.7 925.1,300.0 931.8,232.6 938.5,202.4 943.5,225.9 950.2,247.6 957.6,207.4 963.6,256.0 975.4,307.9 982.1,294.5 988.8,292.2 997.1,292.2 1003.8,286.1 1013.9,284.5 1023.9,287.8 1033.3,296.9 1039.0,294.5 1040.0,294.6 1051.7,295.6 1058.4,288.9 1066.8,289.6 1073.5,299.6 1081.9,324.8 1090.3,308.0 1095.3,269.5 1102.0,242.7 1108.7,222.6 1115.4,209.2 1123.8,209.2 1127.8,209.2 1133.8,225.9 1140.5,242.7 1148.9,251.1 1153.9,266.1 1158.9,286.2 1163.3,303.0" fill="none" stroke="#8080ff" stroke-width="1" stroke-linejoin="round" shape-rendering="crispEdges" />
<polyline points="115.0,237.6 120.0,236.6 132.8,266.7 145.2,244.3 150.0,245.1 155.8,246.8 159.8,246.2 162.1,239.3 170.2,227.7 177.7,228.3 184.1,229.5 185.8,232.9 189.3,237.0 192.7,235.8 196.2,234.9 202.5,235.2 207.7,254.9 211.2,252.0 215.8,247.4 218.1,234.7 220.4,216.2 226.2,204.6 229.7,195.4 232.0,183.9 235.5,170.0 238.9,158.9 246.7,142.1 257.4,136.1 260.0,136.1 265.5,134.0 272.5,132.0 283.6,132.0 290.5,129.2 296.0,104.2 298.8,102.2 303.0,100.1 309.2,87.6 315.4,93.2 321.0,99.4 325.1,106.3 329.3,114.6 332.1,128.5 334.8,141.0 339.7,159.7 347.3,168.7 352.8,189.5 359.1,200.0 361.9,205.8 372.0,218.2 378.7,215.8 382.0,202.4 390.4,184.0 397.1,195.7 405.5,190.7 415.5,185.0 420.5,195.7 427.2,222.5 435.6,229.2 440.6,249.3 447.3,272.8 455.7,282.8 460.7,296.2 464.1,320.0 466.2,330.0 473.9,373.9 480.4,424.3 487.0,481.3 492.5,519.9 494.5,540.0 502.3,586.8 510.0,618.0 515.7,649.7 523.0,657.0 529.5,675.1 536.0,672.5 542.5,672.5 548.5,694.6 554.2,690.7 560.7,627.1 567.2,627.1 578.9,653.1 590.6,652.3 598.4,668.7 604.1,675.1 619.2,677.7 637.4,681.1 642.5,682.9 648.3,702.4 662.0,675.1 667.2,644.0 678.9,603.7 691.9,545.2 697.1,540.0 700.0,537.3 711.6,537.3 718.4,541.3 723.9,556.6 730.0,567.3 736.7,545.9 744.4,521.4 750.5,500.0 753.5,477.8 758.6,460.0 762.1,450.9 769.0,442.6 774.6,435.0 781.5,435.0 789.8,439.8 798.1,441.9 807.1,442.6 812.0,423.2 818.9,410.7 823.8,391.3 830.0,376.0 833.9,363.9 838.9,357.2 844.0,350.5 849.0,333.7 859.0,328.7 867.4,320.3 870.8,313.0 880.8,312.0 887.5,328.7 900.0,328.5 913.4,328.5 925.1,333.5 931.8,351.9 938.5,372.0 945.2,407.2 951.9,425.6 958.6,432.3 963.6,431.6 968.7,427.9 975.4,425.6 980.4,403.8 988.8,370.3 997.1,362.0 1010.5,362.0 1018.9,362.0 1026.6,348.6 1032.3,346.9 1038.0,335.2 1045.0,335.2 1051.7,314.7 1063.5,301.3 1071.8,276.2 1081.9,252.7 1090.3,249.4 1095.3,231.0 1102.0,234.3 1110.4,237.7 1120.4,237.7 1127.1,209.2 1137.2,185.7 1145.5,157.2 1153.9,147.2 1162.3,127.1 1163.3,122.1" fill="none" stroke="#00ff00" stroke-width="2.2" stroke-linejoin="round" shape-rendering="crispEdges" />
<polyline points="115.0,237.6 120.0,215.8 126.7,203.1 133.4,203.1 143.5,209.1 150.0,222.0 156.9,232.4 161.5,241.6 166.2,254.3 170.2,270.0 177.0,294.5 183.0,279.4 185.4,292.8 189.7,340.8 197.8,311.9 202.1,311.9 208.8,323.0 215.5,337.4 220.5,312.9 227.2,302.2 233.9,276.1 237.8,270.0 245.8,248.5 250.0,233.5 252.3,227.5 262.4,205.8 264.8,200.0 271.1,186.7 277.3,172.1 284.2,169.4 289.8,161.8 295.3,162.9 298.1,168.7 303.0,182.5 305.7,200.0 310.0,225.9 315.0,279.4 320.0,320.0 326.7,363.5 333.4,427.2 340.1,443.9 346.8,455.6 352.9,433.9 359.6,455.6 372.0,430.5 380.3,390.3 387.0,346.8 392.1,320.0 397.1,302.9 403.8,279.4 410.5,254.3 417.2,232.6 420.0,222.9 428.7,198.6 435.6,197.9 441.5,180.6 447.0,178.5 452.9,165.7 460.9,145.9 466.8,164.0 470.2,215.9 473.7,267.9 477.2,313.0 478.2,330.0 481.5,378.2 485.9,422.1 491.0,467.1 498.0,481.3 510.0,497.5 516.7,494.2 523.4,484.1 529.4,467.4 535.1,464.7 543.5,448.9 550.2,433.9 555.2,400.0 556.3,390.1 557.0,364.6 557.8,339.0 558.5,313.5 559.3,285.0 559.6,270.0 559.8,260.5 567.0,261.5 573.4,256 573.6,250.0 578.7,214.1 585.4,205.8 593.1,197.4 602.1,177.3 611.5,168.9 618.9,179.0 625.6,189.0 630.6,197.4 637.3,214.1 643.3,230.9 647.3,256.0 654.0,282.8 654.8,290.0 660.8,312.5 665.3,290.0 667.4,279.4 674.1,233.2 680.8,230.9 685.8,219.2 692.5,202.4 699.2,185.7 705.9,199.1 710.0,215.8 713.3,250.0 718.4,293.5 724.1,332.1 730.1,322.0 735.1,290.2 740.1,250.0 743.5,202.4 749.5,168.3 760.2,160.6 768.6,160.6 772.0,209.1 777.0,272.8 780.3,322.0 785.6,340.0 792.6,367.7 798.1,385.7 805.0,409.3 812.0,424.6 818.2,412.8 823.8,416.2 830.0,408.6 837.3,392.3 844.0,404.1 849.0,410.8 855.7,422.5 867.4,420.8 875.8,414.1 884.2,421.5 887.5,420.8 894.2,410.8 900.0,383.7 906.7,383.7 913.4,400.5 920.1,418.9 926.8,434.0 933.5,447.4 938.5,452.4 945.2,469.1 953.6,469.1 963.6,482.5 968.7,460.8 975.4,462.4 982.1,442.3 987.8,402.2 994.4,358.6 1000.5,413.9 1007.2,428.9 1013.9,430.0 1025.6,427.3 1034.0,432.3 1040.0,442.2 1045.0,453.3 1051.7,450.6 1056.8,450.6 1063.5,453.3 1070.2,440.6 1076.2,422.1 1081.9,368.5 1089.6,362.8 1095.3,381.9 1102.0,405.4 1108.7,422.1 1113.7,443.9 1120.4,447.9 1127.1,443.9 1133.8,435.5 1139.8,424.8 1145.5,425.5 1152.2,430.5 1158.9,431.2 1163.3,420.5" fill="none" stroke="#0000ff" stroke-width="2.2" stroke-linejoin="round" shape-rendering="crispEdges" />
<polyline points="115.0,402.1 120.0,419.8 126.7,410.4 133.4,392.0 139.5,385.3 145.2,370.2 151.9,353.5 159.6,338.4 168.6,299.5 174.8,270.0 176.8,258.9 183.5,249.1 185.2,232.4 187.0,216.2 189.0,201.2 191.0,205.8 196.0,226.6 202.0,219.7 207.7,205.8 212.4,195.4 215.2,183.3 217.0,188.5 219.9,213.9 221.6,230.0 226.2,241.6 230.8,257.8 234.1,270.0 235.6,272.8 244.0,299.5 254.0,335.0 257.4,350.1 265.7,373.6 270.8,383.0 277.5,383.6 284.2,389.7 290.9,391.0 296.9,387.0 302.6,363.5 307.6,336.7 310.0,312.9 316.7,262.7 323.4,205.8 323.7,200.0 326.5,177.0 329.3,157.6 332.1,139.6 334.1,121.6 336.9,110.5 340.4,95.9 343.1,98.7 347.3,104.2 350.1,111.9 353.5,120.9 356.3,111.9 359.1,101.5 361.8,113.3 364.6,127.1 372.9,135.4 375.7,145.1 380.0,168.7 380.3,162.2 383.7,199.1 390.4,246.0 395.4,282.8 398.8,306.2 400.4,320.0 408.8,363.5 417.2,403.7 427.2,443.9 430.0,455.0 446.4,496.7 454.1,496.7 458.5,472.5 464.0,433.1 467.3,391.4 470.6,351.9 471.7,330.0 472.0,302.6 475.4,254.1 479.6,205.5 483.1,157.0 485.8,125.8 491.0,91.2 496.2,84.3 504.2,76.6 510.0,93.6 516.7,112.0 523.4,135.4 529.4,172.3 535.1,190.7 541.8,199.1 548.5,217.5 555.2,225.9 556.9,266.1 557.8,270.0 559.3,285.0 560.8,304.5 566.8,328.5 572.8,330.8 578.0,337.5 585.5,355.6 593.0,364.6 599.0,373.6 600.0,374.1 604.5,376.4 609.0,372.6 616.5,368.8 624.0,360.6 630.8,354.3 636.8,341.1 641.3,326.0 648.1,313.3 660.1,313.3 662.3,314.0 667.6,339.6 673.6,365.1 684.1,380.1 691.6,390.6 698.4,404.1 704.4,404.1 711.1,399.6 715.6,387.6 720.0,375.6 724.0,368.4 730.2,372.6 736.4,388.5 742.0,407.9 748.2,437.0 754.5,440.5 762.8,446.5 768.7,442.6 773.2,402.4 777.3,374.7 780.8,356.6 785.6,340.0 788.7,325.4 793.7,311.0 801.1,301.9 812.2,281.8 820.5,290.2 828.9,300.2 837.3,316.3 847.3,318.7 857.4,323.0 867.4,330.4 874.8,336.4 884.2,335.4 892.5,342.1 900.0,346.9 905.0,348.6 913.4,333.5 920.1,316.7 925.1,300.0 931.8,232.6 937.5,199.1 944.5,172.3 956.9,163.9 963.6,170.6 970.3,199.1 977.0,220.8 985.4,256.0 994.4,292.2 1000.5,290.2 1008.9,282.8 1017.2,282.1 1026.6,288.8 1034.0,287.8 1040.0,286.2 1046.7,285.6 1051.7,288.9 1060.1,287.9 1066.8,286.9 1073.5,285.6 1081.9,294.6 1090.3,279.5 1097.0,252.7 1102.0,229.3 1108.7,209.2 1114.4,197.4 1122.1,202.5 1127.8,209.2 1133.8,225.9 1140.5,241.0 1147.2,250.1 1153.9,256.1 1158.9,262.8 1163.3,272.8" fill="none" stroke="#ff0000" stroke-width="2.2" stroke-linejoin="round" shape-rendering="crispEdges" />
</g></svg>
<rect x="114" y="48" width="1050" height="710" fill="none" stroke="#808080" stroke-width="2" shape-rendering="crispEdges"/>
</svg>
<div style="position:absolute;left:1px;top:793px;width:1278px;height:73px;background:#cffaf7"></div>
<div style="position:absolute;left:1279px;top:792px;width:1px;height:74px;background:#808080"></div>
<div style="position:absolute;left:87px;top:793px;width:1px;height:73px;background:#fff"></div>
<div style="position:absolute;left:88px;top:793px;width:1px;height:73px;background:#a0a0a0"></div>
<div style="position:absolute;left:204px;top:793px;width:1px;height:73px;background:#fff"></div>
<div style="position:absolute;left:205px;top:793px;width:1px;height:73px;background:#a0a0a0"></div>
<div style="position:absolute;left:322px;top:793px;width:1px;height:73px;background:#fff"></div>
<div style="position:absolute;left:323px;top:793px;width:1px;height:73px;background:#a0a0a0"></div>
<div style="position:absolute;left:440px;top:793px;width:1px;height:73px;background:#fff"></div>
<div style="position:absolute;left:441px;top:793px;width:1px;height:73px;background:#a0a0a0"></div>
<div style="position:absolute;left:558px;top:793px;width:1px;height:73px;background:#fff"></div>
<div style="position:absolute;left:559px;top:793px;width:1px;height:73px;background:#a0a0a0"></div>
<div style="position:absolute;left:676px;top:793px;width:1px;height:73px;background:#fff"></div>
<div style="position:absolute;left:677px;top:793px;width:1px;height:73px;background:#a0a0a0"></div>
<div style="position:absolute;left:794px;top:793px;width:1px;height:73px;background:#fff"></div>
<div style="position:absolute;left:795px;top:793px;width:1px;height:73px;background:#a0a0a0"></div>
<svg width="1280" height="866" style="position:absolute;left:0;top:0" viewBox="0 0 1280 866">
<text transform="translate(8 811) scale(0.97 1)" fill="#000" text-anchor="start" font-size="12.5" font-weight="bold" >Sensor</text>
<text transform="translate(8 827) scale(0.97 1)" fill="#000" text-anchor="start" font-size="12.5" font-weight="bold" >MinValue</text>
<text transform="translate(8 843) scale(0.97 1)" fill="#000" text-anchor="start" font-size="12.5" font-weight="bold" >MaxValue</text>
<text transform="translate(8 859) scale(0.97 1)" fill="#000" text-anchor="start" font-size="12.5" font-weight="bold" >Average</text>
<text transform="translate(95 811) scale(0.97 1)" fill="#000" text-anchor="start" font-size="12.5" font-weight="bold" >Temp. O.</text>
<text transform="translate(198 811) scale(0.97 1)" fill="#000" text-anchor="end" font-size="12.5" font-weight="bold" >°C</text>
<text transform="translate(95 827) scale(0.88 1)" fill="#000" text-anchor="start" font-size="12.5" >25.03.&#160;&#160;06:15</text>
<text transform="translate(198 827) scale(0.88 1)" fill="#000" text-anchor="end" font-size="12.5" >-0.9</text>
<text transform="translate(95 843) scale(0.88 1)" fill="#000" text-anchor="start" font-size="12.5" >25.03.&#160;&#160;14:05</text>
<text transform="translate(198 843) scale(0.88 1)" fill="#000" text-anchor="end" font-size="12.5" >18.1</text>
<text transform="translate(198 859) scale(0.88 1)" fill="#000" text-anchor="end" font-size="12.5" >8.18</text>
<text transform="translate(212 811) scale(0.97 1)" fill="#000" text-anchor="start" font-size="12.5" font-weight="bold" >Hum. O.</text>
<text transform="translate(316 811) scale(0.97 1)" fill="#000" text-anchor="end" font-size="12.5" font-weight="bold" >%</text>
<text transform="translate(212 827) scale(0.88 1)" fill="#000" text-anchor="start" font-size="12.5" >25.03.&#160;&#160;15:55</text>
<text transform="translate(316 827) scale(0.88 1)" fill="#000" text-anchor="end" font-size="12.5" >34</text>
<text transform="translate(212 843) scale(0.88 1)" fill="#000" text-anchor="start" font-size="12.5" >25.03.&#160;&#160;07:40</text>
<text transform="translate(316 843) scale(0.88 1)" fill="#000" text-anchor="end" font-size="12.5" >87</text>
<text transform="translate(316 859) scale(0.88 1)" fill="#000" text-anchor="end" font-size="12.5" >60</text>
<text transform="translate(330 811) scale(0.97 1)" fill="#000" text-anchor="start" font-size="12.5" font-weight="bold" >Baro.</text>
<text transform="translate(434 811) scale(0.97 1)" fill="#000" text-anchor="end" font-size="12.5" font-weight="bold" >mbar</text>
<text transform="translate(330 827) scale(0.88 1)" fill="#000" text-anchor="start" font-size="12.5" >26.03.&#160;&#160;13:20</text>
<text transform="translate(434 827) scale(0.88 1)" fill="#000" text-anchor="end" font-size="12.5" >997.8</text>
<text transform="translate(330 843) scale(0.88 1)" fill="#000" text-anchor="start" font-size="12.5" >24.03.&#160;&#160;06:40</text>
<text transform="translate(434 843) scale(0.88 1)" fill="#000" text-anchor="end" font-size="12.5" >1021.7</text>
<text transform="translate(330 859) scale(0.88 1)" fill="#000" text-anchor="start" font-size="12.5" >^2.4mbar/h</text>
<text transform="translate(434 859) scale(0.88 1)" fill="#000" text-anchor="end" font-size="12.5" >1011.1</text>
<text transform="translate(448 811) scale(0.97 1)" fill="#000" text-anchor="start" font-size="12.5" font-weight="bold" >Wind</text>
<text transform="translate(552 811) scale(0.97 1)" fill="#000" text-anchor="end" font-size="12.5" font-weight="bold" >km/h</text>
<text transform="translate(448 827) scale(0.88 1)" fill="#000" text-anchor="start" font-size="12.5" >23.03.&#160;&#160;00:10</text>
<text transform="translate(552 827) scale(0.88 1)" fill="#000" text-anchor="end" font-size="12.5" >0.0</text>
<text transform="translate(448 843) scale(0.88 1)" fill="#000" text-anchor="start" font-size="12.5" >27.03.&#160;&#160;09:55</text>
<text transform="translate(552 843) scale(0.88 1)" fill="#000" text-anchor="end" font-size="12.5" >50.4</text>
<text transform="translate(448 859) scale(0.88 1)" fill="#000" text-anchor="start" font-size="12.5" >807.8 km</text>
<text transform="translate(552 859) scale(0.88 1)" fill="#000" text-anchor="end" font-size="12.5" >4.8</text>
<text transform="translate(566 811) scale(0.97 1)" fill="#000" text-anchor="start" font-size="12.5" font-weight="bold" >Direction</text>
<text transform="translate(670 811) scale(0.97 1)" fill="#000" text-anchor="end" font-size="12.5" font-weight="bold" ></text>
<text transform="translate(566 827) scale(0.88 1)" fill="#000" text-anchor="start" font-size="12.5" >23.03.&#160;&#160;00:10</text>
<text transform="translate(670 827) scale(0.88 1)" fill="#000" text-anchor="end" font-size="12.5" >N</text>
<text transform="translate(566 843) scale(0.88 1)" fill="#000" text-anchor="start" font-size="12.5" >23.03.&#160;&#160;00:15</text>
<text transform="translate(670 843) scale(0.88 1)" fill="#000" text-anchor="end" font-size="12.5" >N</text>
<text transform="translate(670 859) scale(0.88 1)" fill="#000" text-anchor="end" font-size="12.5" >W-SW</text>
<text transform="translate(684 811) scale(0.97 1)" fill="#000" text-anchor="start" font-size="12.5" font-weight="bold" >Rain</text>
<text transform="translate(788 811) scale(0.97 1)" fill="#000" text-anchor="end" font-size="12.5" font-weight="bold" >mm</text>
<text transform="translate(684 843) scale(0.88 1)" fill="#000" text-anchor="start" font-size="12.5" >27.03.&#160;&#160;05:00</text>
<text transform="translate(788 843) scale(0.88 1)" fill="#000" text-anchor="end" font-size="12.5" >1.9</text>
<text transform="translate(684 859) scale(0.88 1)" fill="#000" text-anchor="start" font-size="12.5" >Total:</text>
<text transform="translate(788 859) scale(0.88 1)" fill="#000" text-anchor="end" font-size="12.5" >15.4</text>
<text transform="translate(920 811) scale(0.97 1)" fill="#000" text-anchor="start" font-size="12.5" font-weight="bold" >PMV-1:-5</text>
<text transform="translate(920 827) scale(0.88 1)" fill="#000" text-anchor="start" font-size="12.5" >WC 7.8 °C</text>
<text transform="translate(920 843) scale(0.88 1)" fill="#000" text-anchor="start" font-size="12.5" >DP -1.4 °C</text>
<text transform="translate(920 859) scale(0.88 1)" fill="#000" text-anchor="start" font-size="12.5" >1.4mbar/3h</text>
</svg>
</body></html>
